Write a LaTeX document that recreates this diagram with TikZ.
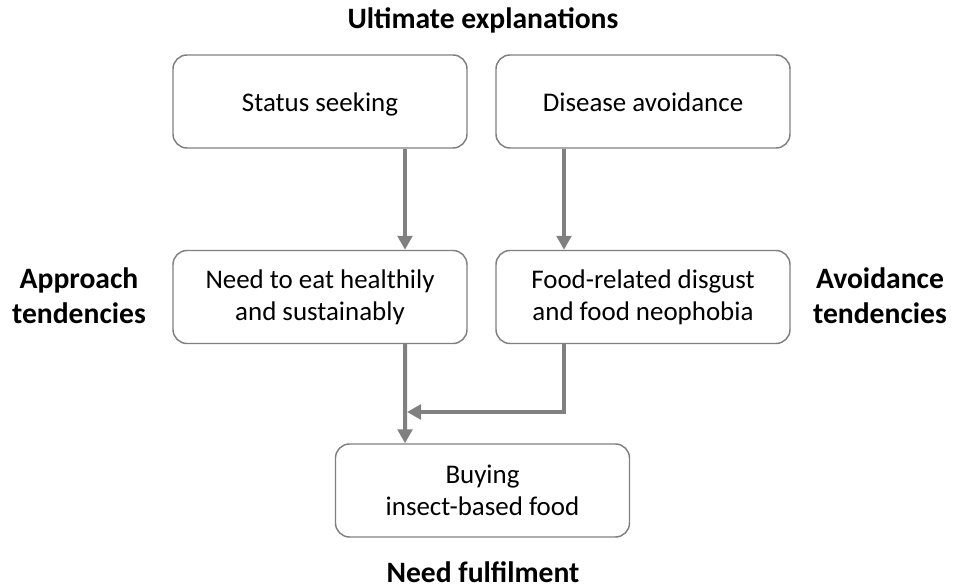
\documentclass[tikz,border=0pt]{standalone}
\usepackage{fontspec}
\setmainfont{Carlito}
\usetikzlibrary{arrows.meta}
\definecolor{edge}{HTML}{7F7F7F}
\definecolor{arrc}{HTML}{808080}
\tikzset{
  box/.style={draw=edge, line width=1.1pt, rounded corners=10.5pt, minimum width=220.5pt, minimum height=69.75pt, align=center, font=\fontsize{20.2}{24}\selectfont, inner sep=0pt},
  oneline/.style={text height=18.5pt, text depth=3.5pt},
  twoline/.style={text height=15pt, text depth=28pt},
  title/.style={font=\fontsize{22.2}{26.3}\selectfont\bfseries, align=center, inner sep=0pt},
  arr/.style={draw=arrc, line width=3pt, -{Triangle[length=10.5pt,width=11pt]}}
}
\begin{document}
\begin{tikzpicture}[x=0.75pt,y=-0.75pt]
\useasboundingbox (0,0) rectangle (957,588);
\node[box,oneline] (b1) at (320,101.5) {Status seeking};
\node[box,oneline] (b2) at (643,101.5) {Disease avoidance};
\node[box] (b3) at (320,297) {Need to eat healthily\\and sustainably};
\node[box] (b4) at (643,297) {Food-related disgust\\and food neophobia};
\node[box] (b5) at (482.5,490.5) {Buying\\insect-based food};
\node[title] (t1) at (483,20) {Ultimate explanations};
\node[title] (t2) at (79,296) {Approach\\tendencies};
\node[title] (t3) at (880,296) {Avoidance\\tendencies};
\node[title] (t4) at (483,572) {Need fulfilment};
\coordinate (j) at (407,412);
\draw[arr] ([xshift=63.75pt]b1.south) -- ([xshift=63.75pt]b3.north);
\draw[arr] ([xshift=-59.25pt]b2.south) -- ([xshift=-59.25pt]b4.north);
\draw[arr] ([xshift=63.75pt]b3.south) -- ([xshift=-58.1pt]b5.north);
\draw[arr, line join=miter] ([xshift=-59.25pt]b4.south) |- (j);
\end{tikzpicture}
\end{document}
